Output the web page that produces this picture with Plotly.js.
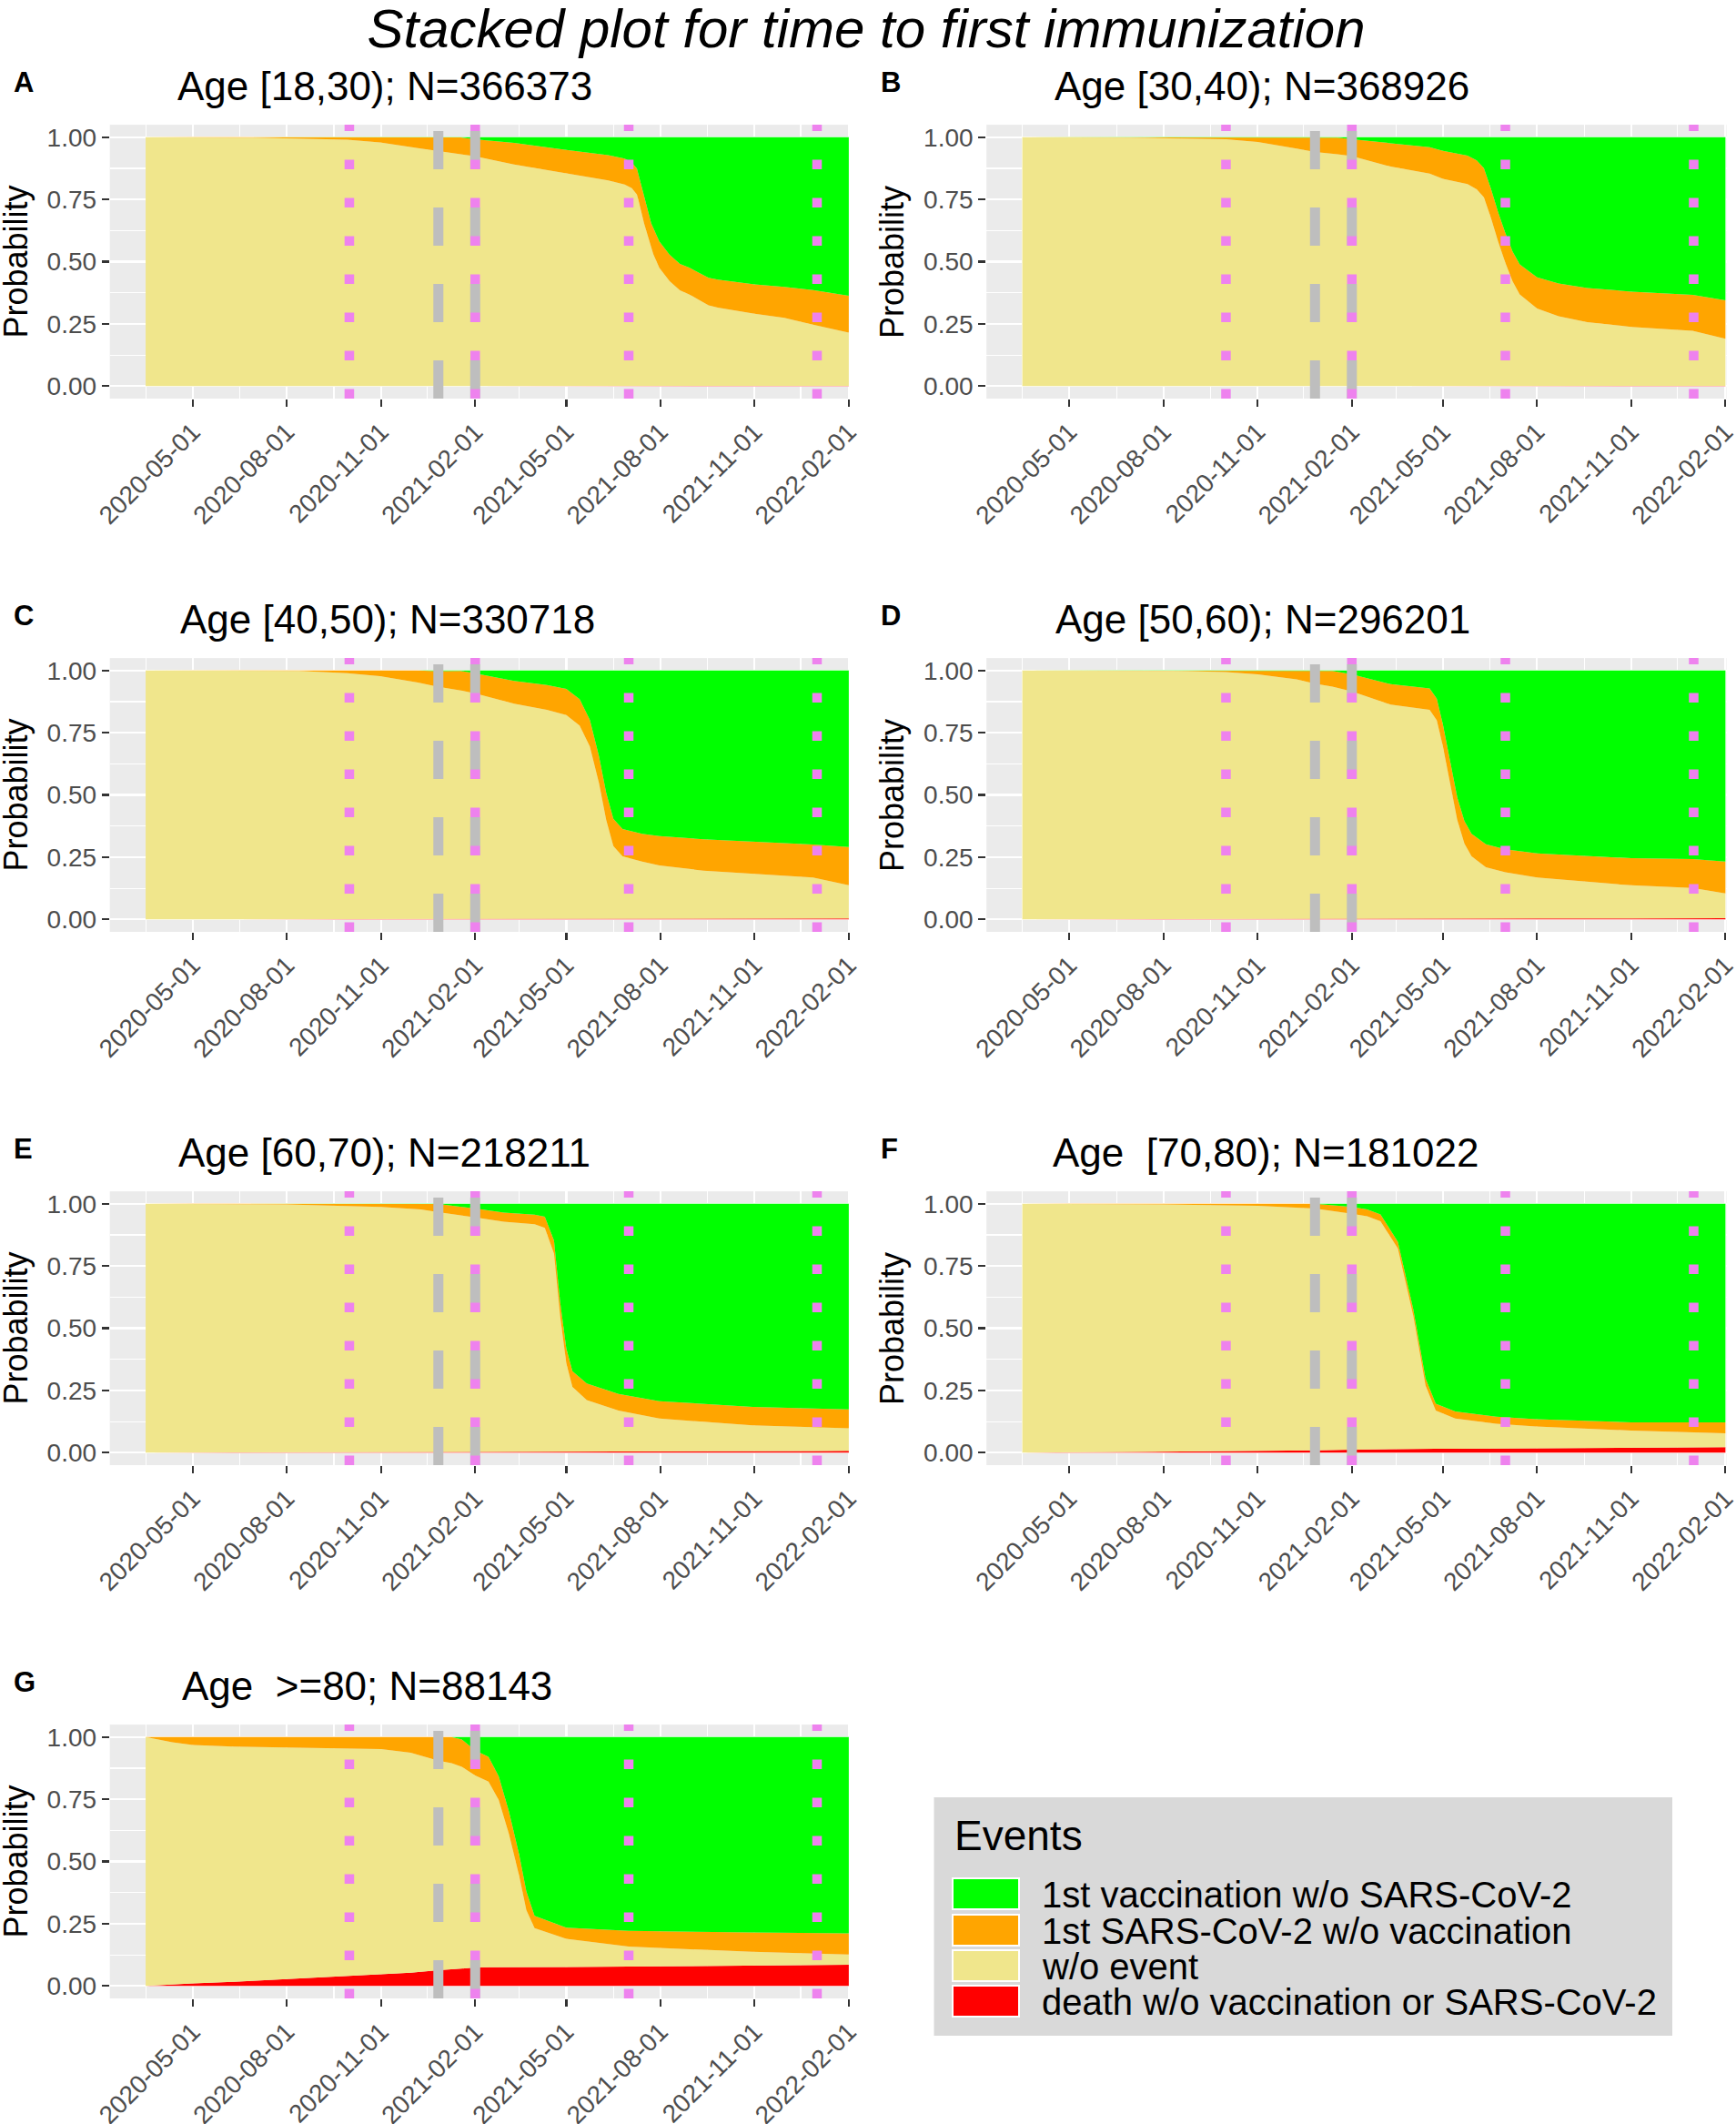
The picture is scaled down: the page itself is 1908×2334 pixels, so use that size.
<!DOCTYPE html>
<html>
<head>
<meta charset="utf-8">
<script src="https://cdn.plot.ly/plotly-3.0.1.min.js"></script>
<style>body{margin:0;background:#fff;}</style>
</head>
<body>
<div id="chart" style="width:1908px;height:2334px;"></div>
<script>
// ---- data (probabilities per event, stacked to 1) ----
var datesA = ['2020-03-16','2020-06-28','2020-09-29','2020-10-31','2020-12-07','2020-12-26','2021-01-18','2021-01-31','2021-03-11','2021-05-01','2021-06-11','2021-06-27','2021-07-04','2021-07-09','2021-07-11','2021-07-16','2021-07-18','2021-07-23','2021-07-25','2021-07-31','2021-08-10','2021-08-20','2021-08-29','2021-09-17','2021-09-26','2021-11-01','2021-11-30','2021-12-28','2022-02-01'];
var deathA = [0,0,0,0,0.001,0.001,0.001,0.001,0.001,0.001,0.001,0.001,0.001,0.001,0.001,0.001,0.001,0.001,0.001,0.001,0.001,0.001,0.001,0.001,0.001,0.001,0.001,0.001,0.001];
var noneA = [1.000,0.998,0.990,0.979,0.955,0.944,0.932,0.923,0.889,0.853,0.825,0.809,0.794,0.769,0.739,0.653,0.624,0.548,0.529,0.474,0.421,0.384,0.368,0.324,0.315,0.290,0.273,0.246,0.214];
var sarsA = [0,0.002,0.010,0.021,0.044,0.055,0.066,0.068,0.087,0.095,0.102,0.104,0.104,0.104,0.104,0.105,0.105,0.105,0.105,0.106,0.106,0.106,0.107,0.110,0.112,0.118,0.125,0.139,0.148];
var vaccA = [0,0,0,0,0,0,0.001,0.008,0.023,0.051,0.072,0.086,0.101,0.126,0.156,0.241,0.270,0.346,0.365,0.419,0.472,0.509,0.524,0.565,0.572,0.591,0.601,0.614,0.637];

var datesB = ['2020-03-16','2020-06-29','2020-10-01','2020-11-01','2020-12-09','2020-12-27','2021-01-18','2021-02-01','2021-03-11','2021-04-18','2021-05-01','2021-05-25','2021-06-03','2021-06-10','2021-06-17','2021-06-24','2021-07-01','2021-07-08','2021-07-15','2021-08-01','2021-08-22','2021-09-19','2021-11-01','2021-12-31','2022-02-01'];
var deathB = [0,0,0,0,0.001,0.001,0.001,0.001,0.001,0.001,0.001,0.001,0.001,0.001,0.001,0.001,0.001,0.001,0.001,0.001,0.001,0.001,0.001,0.001,0.001];
var noneB = [1.000,0.998,0.992,0.981,0.953,0.940,0.931,0.923,0.881,0.853,0.832,0.811,0.790,0.758,0.674,0.579,0.495,0.421,0.368,0.311,0.280,0.256,0.237,0.221,0.189];
var sarsB = [0,0.002,0.008,0.019,0.046,0.058,0.066,0.068,0.093,0.106,0.112,0.114,0.116,0.117,0.117,0.118,0.119,0.119,0.120,0.125,0.131,0.137,0.142,0.145,0.155];
var vaccB = [0,0,0,0,0,0.001,0.002,0.008,0.025,0.040,0.055,0.074,0.093,0.124,0.208,0.302,0.385,0.459,0.511,0.563,0.588,0.606,0.620,0.633,0.655];

var datesC = ['2020-03-16','2020-08-13','2020-09-29','2020-10-31','2020-12-07','2020-12-26','2021-01-18','2021-01-31','2021-03-11','2021-04-12','2021-05-01','2021-05-14','2021-05-24','2021-06-02','2021-06-09','2021-06-16','2021-06-25','2021-07-14','2021-07-31','2021-09-12','2021-11-01','2021-12-28','2022-02-01'];
var deathC = [0,0.001,0.001,0.001,0.002,0.002,0.002,0.002,0.003,0.003,0.003,0.003,0.003,0.003,0.003,0.003,0.003,0.003,0.003,0.004,0.004,0.004,0.004];
var noneC = [1.000,0.997,0.988,0.976,0.950,0.933,0.918,0.907,0.864,0.839,0.818,0.776,0.692,0.544,0.397,0.292,0.250,0.229,0.214,0.192,0.179,0.164,0.133];
var sarsC = [0,0.002,0.011,0.023,0.048,0.062,0.078,0.080,0.091,0.100,0.105,0.106,0.107,0.108,0.108,0.109,0.110,0.112,0.118,0.126,0.129,0.133,0.154];
var vaccC = [0,0,0,0,0,0.003,0.002,0.011,0.042,0.058,0.074,0.115,0.198,0.345,0.492,0.596,0.637,0.656,0.665,0.678,0.688,0.699,0.709];

var datesD = ['2020-03-16','2020-08-16','2020-10-01','2020-11-01','2020-12-09','2020-12-27','2021-01-13','2021-02-01','2021-03-11','2021-04-18','2021-04-25','2021-05-01','2021-05-08','2021-05-15','2021-05-22','2021-05-29','2021-06-12','2021-07-01','2021-08-01','2021-11-01','2021-12-31','2022-02-01'];
var deathD = [0,0.002,0.002,0.003,0.003,0.003,0.003,0.003,0.003,0.004,0.004,0.004,0.004,0.004,0.004,0.004,0.004,0.004,0.004,0.004,0.004,0.005];
var noneD = [1.000,0.996,0.992,0.982,0.961,0.944,0.932,0.913,0.860,0.838,0.796,0.691,0.543,0.396,0.301,0.249,0.206,0.185,0.164,0.133,0.122,0.099];
var sarsD = [0,0.002,0.006,0.015,0.036,0.052,0.063,0.069,0.082,0.086,0.087,0.088,0.089,0.090,0.090,0.091,0.092,0.093,0.097,0.109,0.116,0.128];
var vaccD = [0,0,0,0,0,0.001,0.002,0.015,0.055,0.072,0.113,0.217,0.364,0.510,0.605,0.656,0.698,0.718,0.735,0.754,0.758,0.768];

var datesE = ['2020-03-16','2020-07-31','2020-11-01','2020-12-10','2020-12-27','2021-01-19','2021-02-01','2021-03-01','2021-03-31','2021-04-10','2021-04-19','2021-04-25','2021-05-01','2021-05-07','2021-05-21','2021-06-21','2021-07-31','2021-10-30','2021-12-30','2022-02-01'];
var deathE = [0,0.001,0.002,0.002,0.003,0.003,0.003,0.003,0.004,0.004,0.004,0.004,0.004,0.004,0.004,0.005,0.005,0.006,0.007,0.008];
var noneE = [1.000,0.996,0.985,0.975,0.963,0.951,0.942,0.925,0.914,0.899,0.796,0.545,0.355,0.260,0.207,0.164,0.132,0.104,0.094,0.090];
var sarsE = [0,0.003,0.013,0.023,0.033,0.033,0.036,0.036,0.038,0.045,0.052,0.056,0.060,0.063,0.067,0.067,0.070,0.074,0.075,0.076];
var vaccE = [0,0,0,0,0.001,0.013,0.019,0.036,0.044,0.052,0.148,0.395,0.581,0.673,0.722,0.764,0.793,0.816,0.824,0.826];

var datesF = ['2020-03-16','2020-07-31','2020-11-01','2020-12-27','2021-02-01','2021-02-16','2021-03-01','2021-03-18','2021-04-02','2021-04-14','2021-04-24','2021-05-13','2021-06-22','2021-07-31','2021-11-01','2022-02-01'];
var deathF = [0,0.003,0.006,0.009,0.012,0.013,0.014,0.015,0.016,0.016,0.016,0.016,0.017,0.017,0.019,0.022];
var noneF = [1.000,0.994,0.986,0.972,0.948,0.937,0.916,0.805,0.534,0.254,0.153,0.121,0.099,0.088,0.070,0.056];
var sarsF = [0,0.003,0.008,0.019,0.027,0.027,0.027,0.027,0.027,0.028,0.028,0.029,0.029,0.030,0.033,0.044];
var vaccF = [0,0,0,0,0.013,0.023,0.043,0.153,0.423,0.702,0.803,0.834,0.855,0.865,0.878,0.878];

var datesG = ['2020-03-16','2020-04-11','2020-05-01','2020-06-10','2020-07-31','2020-11-01','2020-11-30','2020-12-27','2021-01-09','2021-01-19','2021-02-01','2021-02-14','2021-02-24','2021-03-06','2021-03-16','2021-03-23','2021-03-31','2021-05-01','2021-07-01','2021-10-30','2022-02-01'];
var deathG = [0,0.006,0.010,0.017,0.027,0.046,0.053,0.063,0.067,0.070,0.074,0.075,0.075,0.075,0.075,0.075,0.075,0.076,0.078,0.081,0.085];
var noneG = [1.000,0.973,0.958,0.945,0.931,0.906,0.884,0.842,0.828,0.810,0.772,0.746,0.672,0.535,0.367,0.230,0.157,0.113,0.080,0.056,0.041];
var sarsG = [0,0.021,0.032,0.038,0.042,0.048,0.063,0.095,0.105,0.110,0.100,0.100,0.095,0.090,0.085,0.075,0.050,0.045,0.063,0.078,0.085];
var vaccG = [0,0,0,0,0,0,0,0,0,0.010,0.054,0.079,0.158,0.300,0.473,0.620,0.718,0.766,0.779,0.785,0.789];

var panelTags = ['A','B','C','D','E','F','G'];
var panelTitles = ['Age [18,30); N=366373','Age [30,40); N=368926','Age [40,50); N=330718','Age [50,60); N=296201',
  'Age [60,70); N=218211','Age\u00a0 [70,80); N=181022','Age\u00a0 >=80; N=88143'];

var eventLabels = ['1st vaccination w/o SARS-CoV-2','1st SARS-CoV-2 w/o vaccination','w/o event','death w/o vaccination or SARS-CoV-2'];
var eventColors = ['#00FF00','#FFA500','#F0E68C','#FF0000'];

var pinkDates = ['2020-10-01','2021-02-01','2021-07-01','2022-01-01'];
var grayDates = ['2020-12-27','2021-02-01'];

var yTicks = [0, 0.25, 0.5, 0.75, 1];

// ---- layout ----
var W = 1908, H = 2334;
var FONT = 'Liberation Sans, Arial, sans-serif';
var colLeft = [120.7, 1084.2], panelW = 813.3;
var rowTop = [137.1, 723.1, 1309.1, 1895.1], panelH = 300.9;
var rowStep = 586;
var titleX = [192.7, 1157, 195.8, 1158, 194, 1155, 197.6];
var letterX = [12.7, 966];
var ylabX = [17, 980.5];

function px(x) { return x / W; }
function py(y) { return 1 - y / H; }

var series = [
  {d: [datesA, deathA, noneA, sarsA, vaccA]},
  {d: [datesB, deathB, noneB, sarsB, vaccB]},
  {d: [datesC, deathC, noneC, sarsC, vaccC]},
  {d: [datesD, deathD, noneD, sarsD, vaccD]},
  {d: [datesE, deathE, noneE, sarsE, vaccE]},
  {d: [datesF, deathF, noneF, sarsF, vaccF]},
  {d: [datesG, deathG, noneG, sarsG, vaccG]}
];
// stacking order bottom -> top: death, w/o event, SARS, vaccination
var stackColors = [eventColors[3], eventColors[2], eventColors[1], eventColors[0]];
var stackNames = [eventLabels[3], eventLabels[2], eventLabels[1], eventLabels[0]];

var traces = [];
var layout = {
  width: W, height: H,
  margin: {l: 0, r: 0, t: 0, b: 0},
  paper_bgcolor: '#FFFFFF',
  plot_bgcolor: '#EBEBEB',
  showlegend: false,
  font: {family: FONT, color: '#000000'},
  title: {
    text: '<i>Stacked plot for time to first immunization</i>',
    font: {family: FONT, size: 60, color: '#000000'},
    x: px(952), xanchor: 'center', xref: 'paper',
    y: py(31), yanchor: 'middle', yref: 'paper'
  },
  shapes: [],
  annotations: []
};

for (var i = 0; i < 7; i++) {
  var k = i + 1;
  var sfx = k === 1 ? '' : String(k);
  var col = i % 2, row = Math.floor(i / 2);
  var d = series[i].d;

  for (var s = 0; s < 4; s++) {
    traces.push({
      type: 'scatter', mode: 'lines',
      x: d[0], y: d[s + 1],
      xaxis: 'x' + sfx, yaxis: 'y' + sfx,
      stackgroup: 'g' + k,
      name: stackNames[s],
      line: {width: 0, color: stackColors[s]},
      fillcolor: stackColors[s],
      hoverinfo: 'skip'
    });
  }

  var x0 = colLeft[col], y0 = rowTop[row];
  layout['xaxis' + sfx] = {
    domain: [px(x0), px(x0 + panelW)],
    anchor: 'y' + sfx,
    type: 'date',
    range: ['2020-02-10', '2022-02-02'],
    tickmode: 'linear', tick0: '2020-05-01', dtick: 'M3',
    tickformat: '%Y-%m-%d', tickangle: -45,
    ticklabeloverflow: 'allow',
    ticks: 'outside', ticklen: 8, tickwidth: 2.2, tickcolor: '#333333',
    tickfont: {family: FONT, size: 28, color: '#4D4D4D'},
    showgrid: true, gridcolor: '#FFFFFF', gridwidth: 2.2,
    minor: {tick0: '2020-03-16', dtick: 'M3', showgrid: true, gridcolor: '#FFFFFF', gridwidth: 1.1},
    zeroline: false, showline: false, fixedrange: true
  };
  layout['yaxis' + sfx] = {
    domain: [py(y0 + panelH), py(y0)],
    anchor: 'x' + sfx,
    range: [-0.05, 1.05],
    tickmode: 'array', tickvals: yTicks,
    ticktext: yTicks.map(function (v) { return v.toFixed(2); }),
    ticks: 'outside', ticklen: 8, tickwidth: 2.2, tickcolor: '#333333',
    tickfont: {family: FONT, size: 28, color: '#4D4D4D'},
    showgrid: true, gridcolor: '#FFFFFF', gridwidth: 2.2,
    minor: {tick0: 0.125, dtick: 0.25, showgrid: true, gridcolor: '#FFFFFF', gridwidth: 1.1},
    zeroline: false, showline: false, fixedrange: true
  };

  // reference lines: grey dashed, then violet dotted on top
  grayDates.forEach(function (dt) {
    layout.shapes.push({type: 'line', xref: 'x' + sfx, yref: 'y' + sfx + ' domain',
      x0: dt, x1: dt, y0: 0, y1: 1, layer: 'above',
      line: {color: '#BEBEBE', width: 11, dash: '42px,42px'}});
  });
  pinkDates.forEach(function (dt) {
    layout.shapes.push({type: 'line', xref: 'x' + sfx, yref: 'y' + sfx + ' domain',
      x0: dt, x1: dt, y0: 0, y1: 1, layer: 'above',
      line: {color: '#EE82EE', width: 10.5, dash: '10.5px,31.5px'}});
  });

  // panel letter, title, y label
  layout.annotations.push({
    text: '<b>' + panelTags[i] + '</b>', xref: 'paper', yref: 'paper',
    x: px(letterX[col]), y: py(90.5 + rowStep * row), xanchor: 'left', yanchor: 'middle',
    showarrow: false, font: {family: FONT, size: 31, color: '#000000'}
  });
  layout.annotations.push({
    text: panelTitles[i], xref: 'paper', yref: 'paper',
    x: px(titleX[i]), y: py(94.5 + rowStep * row), xanchor: 'left', yanchor: 'middle',
    showarrow: false, font: {family: FONT, size: 44, color: '#000000'}
  });
  layout.annotations.push({
    text: 'Probability', xref: 'paper', yref: 'paper', textangle: -90,
    x: px(ylabX[col]), y: py(287.5 + rowStep * row), xanchor: 'center', yanchor: 'middle',
    showarrow: false, font: {family: FONT, size: 36, color: '#000000'}
  });
}

// ---- legend box (drawn by hand to match key size) ----
layout.shapes.push({type: 'rect', xref: 'paper', yref: 'paper',
  x0: px(1026.5), x1: px(1838), y0: py(2237), y1: py(1975),
  fillcolor: '#D9D9D9', line: {width: 0}, layer: 'above'});
layout.annotations.push({
  text: 'Events', xref: 'paper', yref: 'paper', x: px(1047), y: py(2016.5),
  xanchor: 'left', yanchor: 'middle', showarrow: false,
  font: {family: FONT, size: 46, color: '#000000'}
});
var keyTop = [2064, 2104, 2143, 2182], keyH = 34;
for (var j = 0; j < eventLabels.length; j++) {
  layout.shapes.push({type: 'rect', xref: 'paper', yref: 'paper',
    x0: px(1047), x1: px(1120), y0: py(keyTop[j] + keyH), y1: py(keyTop[j]),
    fillcolor: eventColors[j], line: {color: '#FFFFFF', width: 2}, layer: 'above'});
  layout.annotations.push({
    text: eventLabels[j], xref: 'paper', yref: 'paper',
    x: px(1143), y: py(keyTop[j] + keyH / 2 + 1),
    xanchor: 'left', yanchor: 'middle', showarrow: false,
    font: {family: FONT, size: 40, color: '#000000'}
  });
}

Plotly.newPlot('chart', traces, layout, {staticPlot: true, displayModeBar: false});
</script>
</body>
</html>
